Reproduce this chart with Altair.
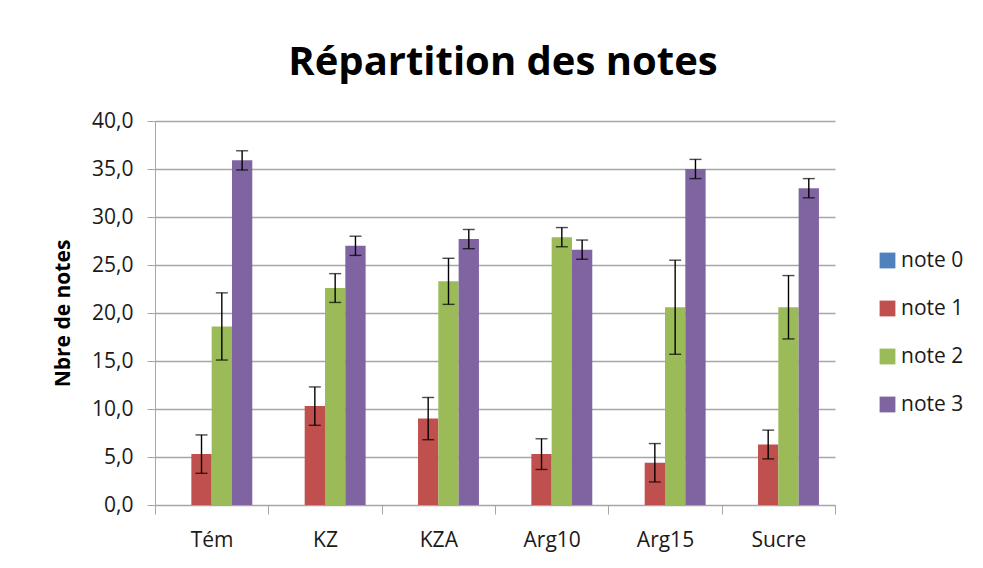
import altair as alt
import pandas as pd

categories = ["Tém", "KZ", "KZA", "Arg10", "Arg15", "Sucre"]
series = ["note 0", "note 1", "note 2", "note 3"]
note0 = [0, 0, 0, 0, 0, 0]
note1 = [5.3, 10.3, 9.0, 5.3, 4.4, 6.3]
note2 = [18.6, 22.6, 23.3, 27.9, 20.6, 20.6]
note3 = [35.9, 27.0, 27.7, 26.6, 35.0, 33.0]
err0 = [0, 0, 0, 0, 0, 0]
err1 = [2.0, 2.0, 2.2, 1.6, 2.0, 1.5]
err2 = [3.5, 1.5, 2.4, 1.0, 4.9, 3.3]
err3 = [1.0, 1.0, 1.0, 1.0, 1.0, 1.0]
y_ticks = [0, 5, 10, 15, 20, 25, 30, 35, 40]
colors = ["#4F81BD", "#C0504D", "#9BBB59", "#8064A2"]

rows = []
for s, vals, errs in zip(series, [note0, note1, note2, note3], [err0, err1, err2, err3]):
    for c, v, e in zip(categories, vals, errs):
        rows.append({"cat": c, "note": s, "value": v, "lo": v - e, "hi": v + e, "err": e})
df = pd.DataFrame(rows)

FONT = "Open Sans"
GRID = "#a6a6a6"

x_enc = alt.X(
    "cat:N",
    sort=categories,
    scale=alt.Scale(paddingInner=0, paddingOuter=0),
    axis=alt.Axis(
        title=None, labelAngle=0, tickBand="extent", labelFontSize=21,
        labelColor="#1a1a1a", labelFont=FONT, domainColor=GRID, tickColor=GRID,
        tickSize=9, labelPadding=15, grid=False,
    ),
)
xo_enc = alt.XOffset(
    "note:N", sort=series,
    scale=alt.Scale(domain=series, paddingInner=0, paddingOuter=0.79),
)
color_enc = alt.Color(
    "note:N", sort=series,
    scale=alt.Scale(domain=series, range=colors),
    legend=alt.Legend(
        title=None, orient="none", legendX=722, legendY=129,
        symbolType="square", symbolSize=250, symbolStrokeWidth=0,
        labelFontSize=21, labelFont=FONT, labelColor="#1a1a1a",
        rowPadding=26, padding=0, labelOffset=3,
    ),
)
y_scale = alt.Scale(domain=[0, 40], nice=False)

bars = alt.Chart(df).mark_bar().encode(
    x=x_enc,
    xOffset=xo_enc,
    y=alt.Y(
        "value:Q", scale=y_scale,
        axis=alt.Axis(
            title="Nbre de notes", values=y_ticks,
            labelExpr="replace(format(datum.value, '.1f'), '.', ',')",
            labelFontSize=21, labelFont=FONT, labelColor="#1a1a1a",
            titleFontSize=21, titleFont=FONT, titleFontWeight="bold", titleColor="#000000",
            titlePadding=18, domainColor=GRID, tickColor=GRID, tickSize=8,
            gridColor=GRID, gridWidth=1.3, labelPadding=14,
        ),
    ),
    color=color_enc,
)

err_df = alt.Chart(df).transform_filter("datum.err > 0")

rules = err_df.mark_rule(color="black", strokeWidth=1.4).encode(
    x=alt.X("cat:N", sort=categories),
    xOffset=xo_enc,
    y=alt.Y("lo:Q", scale=y_scale),
    y2="hi:Q",
)
cap_lo = err_df.mark_tick(color="black", size=12, thickness=1.4).encode(
    x=alt.X("cat:N", sort=categories),
    xOffset=xo_enc,
    y=alt.Y("lo:Q", scale=y_scale),
)
cap_hi = err_df.mark_tick(color="black", size=12, thickness=1.4).encode(
    x=alt.X("cat:N", sort=categories),
    xOffset=xo_enc,
    y=alt.Y("hi:Q", scale=y_scale),
)

chart = alt.layer(bars, rules, cap_lo, cap_hi).properties(
    width=680,
    height=384,
    title=alt.Title(
        "Répartition des notes", fontSize=40, font=FONT, fontWeight="bold",
        color="#000000", anchor="middle", dx=8, dy=35, offset=30, baseline="alphabetic",
    ),
    autosize=alt.AutoSizeParams(type="none"),
    padding={"left": 147, "top": 113, "right": 140, "bottom": 50},
).configure(background="white").configure_view(strokeWidth=0, stroke="transparent")

chart.save("out.html", embed_options={"renderer": "svg", "actions": False})
